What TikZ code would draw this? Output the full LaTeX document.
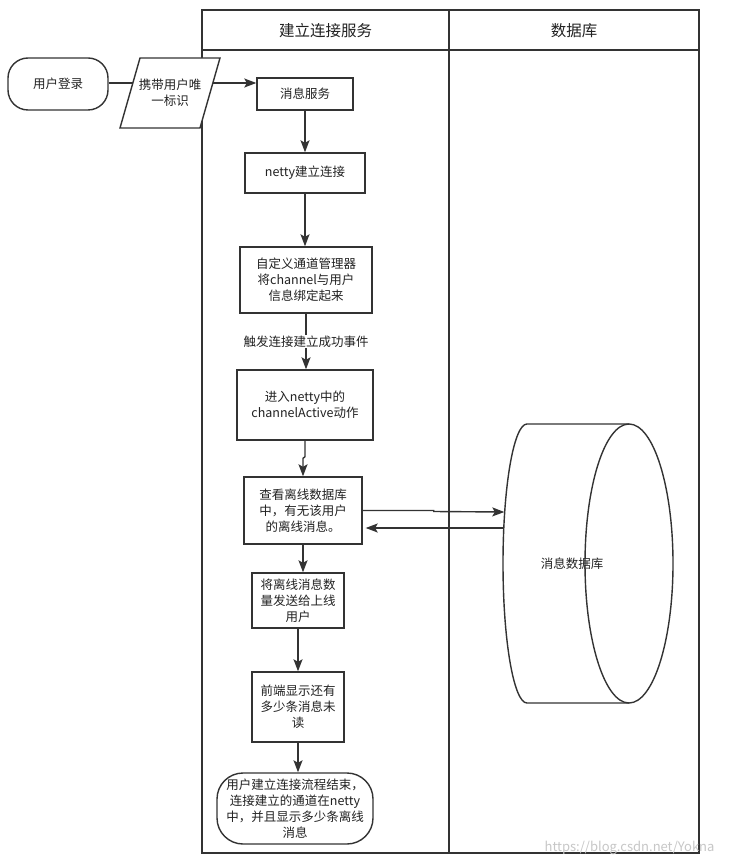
\documentclass[tikz,border=0pt]{standalone}
\usepackage{fontspec}
\setmainfont{Noto Sans CJK SC}
\usetikzlibrary{arrows.meta,calc}
\definecolor{linec}{HTML}{333333}
\definecolor{textc}{HTML}{222222}
\begin{document}
\begin{tikzpicture}[x=1pt,y=-1pt,
  every node/.style={text=textc},
  proc/.style={draw=linec, line width=1.4pt, fill=white, align=center,
    font=\fontsize{12.5}{16}\selectfont, inner sep=0pt},
  term/.style={proc, rounded corners=22pt},
  conn/.style={draw=linec, line width=1.4pt},
  arr/.style={conn, -{Stealth[length=12pt,width=9pt,inset=2.5pt]}},
  lane/.style={draw=linec, line width=1.4pt},
  head/.style={font=\fontsize{15.5}{18}\selectfont},
  lbl/.style={fill=white, font=\fontsize{12.5}{16}\selectfont, inner sep=1pt}
]
\useasboundingbox (0,0) rectangle (728,866);
\fill[white] (0,0) rectangle (728,866);

% swimlane pool
\draw[lane] (202,10) rectangle (699,853);
\draw[lane] (202,50) -- (699,50);
\draw[lane] (449,10) -- (449,853);
\node[head] (h1) at (325.5,31) {建立连接服务};
\node[head] (h2) at (574,31) {数据库};

% start terminal and data parallelogram
\node[term, minimum width=100pt, minimum height=52pt, rounded corners=20pt] (login) at (58,84) {用户登录};
\draw[conn, fill=white] (140,58) -- (220,58) -- (200,128) -- (120,128) -- cycle;
\node[align=center, font=\fontsize{12.5}{16}\selectfont, inner sep=0pt] (para) at (170,93) {携带用户唯\\一标识};
\coordinate (paraL) at (132.9,83);
\coordinate (paraR) at (212.9,83);

% process boxes
\node[proc, minimum width=96pt, minimum height=32pt] (msg) at (305,94) {消息服务};
\node[proc, minimum width=120pt, minimum height=40pt] (netty) at (305,173) {netty建立连接};
\node[proc, minimum width=132pt, minimum height=66pt] (mgr) at (306,280) {自定义通道管理器\\将channel与用户\\信息绑定起来};
\node[proc, minimum width=136pt, minimum height=70pt] (active) at (305,405) {进入netty中的\\channelActive动作};
\node[proc, minimum width=118pt, minimum height=67pt] (check) at (303,510.5) {查看离线数据库\\中，有无该用户\\的离线消息。};
\node[proc, minimum width=92pt, minimum height=55pt] (send) at (298,600.5) {将离线消息数\\量发送给上线\\用户};
\node[proc, minimum width=92pt, minimum height=70pt] (front) at (298,707) {前端显示还有\\多少条消息未\\读};
\node[term, minimum width=156pt, minimum height=71pt, rounded corners=26pt] (endn) at (295,808.5) {用户建立连接流程结束，\\连接建立的通道在netty\\中，并且显示多少条离线\\消息};

% database cylinder
\draw[conn, fill=white] (629,424) -- (527,424)
  arc[start angle=270, end angle=90, x radius=24, y radius=139.5]
  -- (629,703);
\draw[conn] (629,563.5) ellipse [x radius=44, y radius=139.5];
\node[inner sep=0pt, minimum width=170pt, minimum height=279pt] (dbbox) at (588,563.5) {};
\node[font=\fontsize{12.5}{16}\selectfont] (db) at (572,563.5) {消息数据库};
\coordinate (dbIn) at ($(dbbox.west)+(1.5,-51.5)$);
\coordinate (dbOut) at ($(dbbox.west)+(0.5,-35.5)$);

% connectors
\draw[conn] (login.east |- paraL) -- (paraL);
\draw[arr] (paraR) -- (paraR -| msg.west);
\draw[arr] (msg.south) -- (msg.south |- netty.north);
\draw[arr] (netty.south) -- (netty.south |- mgr.north);
\draw[arr] (mgr.south) -- (mgr.south |- active.north)
  node[lbl, pos=0.5] (evt) {触发连接建立成功事件};
\draw[arr] (active.south) -- ++(0,16) -- ($(check.north)+(0,-18)$) -- (check.north);
\draw[arr] (check.south) -- (check.south |- send.north);
\draw[arr] (send.south) -- (send.south |- front.north);
\draw[arr] (front.south) -- (front.south |- endn.north);
\draw[arr] (check.east) -- ($(check.east)+(71,0)$) -- ($(check.east)+(71,1)$) -- (dbIn);
\draw[arr] (dbOut) -- ($(check.east)+(3,17.5)$);

% watermark
\node[text=black!22, font=\fontsize{13}{15}\selectfont, anchor=east] (wm) at (718,848) {https://blog.csdn.net/Yokna};
\end{tikzpicture}
\end{document}
